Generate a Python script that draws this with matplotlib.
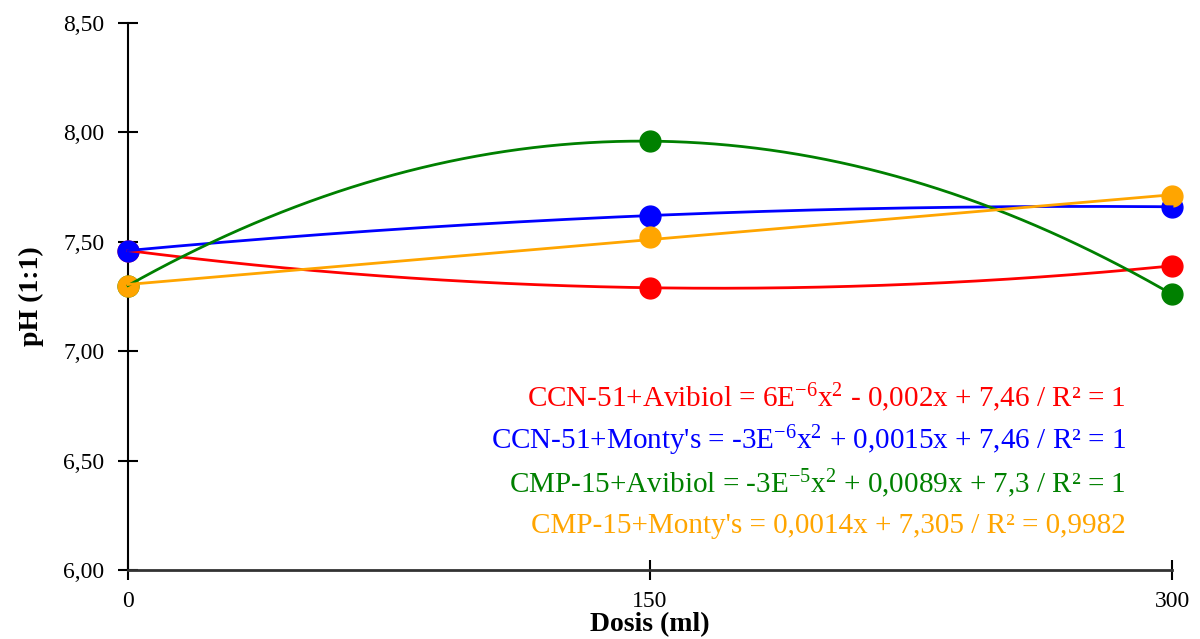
import numpy as np
import matplotlib
matplotlib.use("Agg")
import matplotlib.pyplot as plt

plt.rcParams['font.family'] = ['Liberation Serif', 'DejaVu Serif']
plt.rcParams['mathtext.fontset'] = 'custom'
plt.rcParams['mathtext.rm'] = 'Liberation Serif'
plt.rcParams['mathtext.it'] = 'Liberation Serif'
plt.rcParams['mathtext.default'] = 'regular'

doses = [0, 150, 300]
series_names = ["CCN-51+Avibiol", "CCN-51+Monty's", "CMP-15+Avibiol", "CMP-15+Monty's"]
ccn_avibiol = [7.46, 7.29, 7.39]
ccn_montys = [7.46, 7.62, 7.66]
cmp_avibiol = [7.30, 7.96, 7.26]
cmp_montys = [7.30, 7.52, 7.71]
fit_degree = [2, 2, 2, 1]
colors = ['#FF0000', '#0000FF', '#008000', '#FFA500']
equations = [
    r"CCN-51+Avibiol = 6E$^{-6}$x$^{2}$ - 0,002x + 7,46 / R² = 1",
    r"CCN-51+Monty's = -3E$^{-6}$x$^{2}$ + 0,0015x + 7,46 / R² = 1",
    r"CMP-15+Avibiol = -3E$^{-5}$x$^{2}$ + 0,0089x + 7,3 / R² = 1",
    r"CMP-15+Monty's = 0,0014x + 7,305 / R² = 0,9982",
]
yticks = [6.00, 6.50, 7.00, 7.50, 8.00, 8.50]
ytick_labels = ["6,00", "6,50", "7,00", "7,50", "8,00", "8,50"]
xticks = [0, 150, 300]
xtick_labels = ["0", "150", "300"]

fig = plt.figure(figsize=(12, 6.39), dpi=100)
ax = fig.add_axes([128/1200, 1-570/639, (1172-128)/1200, (570-23)/639])

all_series = [ccn_avibiol, ccn_montys, cmp_avibiol, cmp_montys]
xs = np.linspace(0, 300, 300)
for vals, deg, c in zip(all_series, fit_degree, colors):
    ax.plot(doses, vals, linestyle='none', marker='o', markersize=15,
            color=c, zorder=3, clip_on=False)
for vals, deg, c in zip(all_series, fit_degree, colors):
    coef = np.polyfit(doses, vals, deg)
    ax.plot(xs, np.polyval(coef, xs), color=c, lw=2, zorder=4, clip_on=False)

ax.set_xlim(0, 300)
ax.set_ylim(6.0, 8.5)
ax.set_xticks(xticks)
ax.set_xticklabels(xtick_labels)
ax.set_yticks(yticks)
ax.set_yticklabels(ytick_labels)
ax.tick_params(axis='both', direction='inout', length=14, width=1.5,
               labelsize=17, color='black')
ax.tick_params(axis='x', pad=8)
ax.tick_params(axis='y', pad=10)
ax.spines['top'].set_visible(False)
ax.spines['right'].set_visible(False)
ax.spines['left'].set_linewidth(1.5)
ax.spines['bottom'].set_linewidth(2)
ax.spines['bottom'].set_color('#333333')

ax.set_xlabel("Dosis (ml)", fontsize=20, fontweight='bold', labelpad=0)
ax.set_ylabel("pH (1:1)", fontsize=20, fontweight='bold', labelpad=14)

y_pos = [398, 441, 484, 526]
for eq, c, yp in zip(equations, colors, y_pos):
    fig.text(1126/1200, 1 - yp/639, eq, color=c, fontsize=21,
             ha='right', va='center')

fig.savefig("out.png", dpi=100)
